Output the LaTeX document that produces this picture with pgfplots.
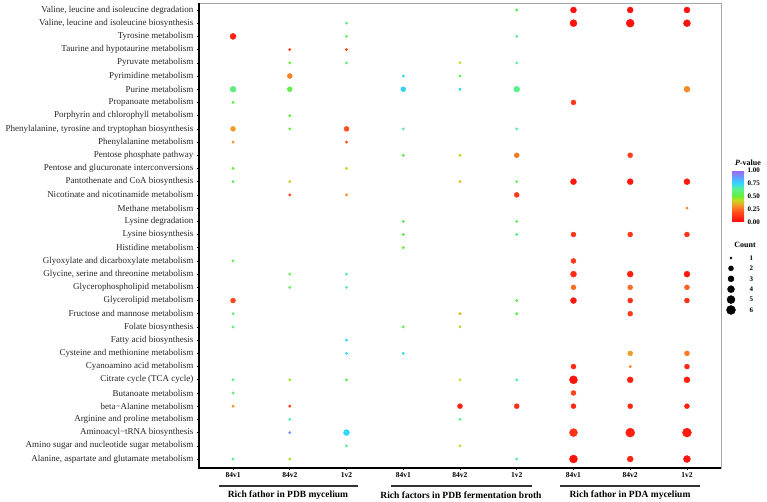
\documentclass[border=0pt]{standalone}
\usepackage{pgfplots}
\pgfplotsset{compat=1.18}
\usepackage{fontspec}
\setmainfont{Liberation Serif}
\begin{document}
\begin{tikzpicture}
\begin{axis}[
  name=main,
  scale only axis, width=522pt, height=465pt,
  xmin=-0.6, xmax=8.6, ymin=0.47, ymax=35.68, y dir=reverse,
  clip=false,
  axis line style={draw=gray!70, line width=0.8pt},
  tick align=outside, major tick length=2pt,
  xtick pos=bottom, ytick pos=left,
  tick style={black, line width=0.6pt},
  xtick={0,...,8},
  xticklabels={84v1,84v2,1v2,84v1,84v2,1v2,84v1,84v2,1v2},
  xticklabel style={font=\bfseries\fontsize{7.5}{8}\selectfont, yshift=1pt},
  ytick={1,...,35},
  yticklabels={
    {Valine, leucine and isoleucine degradation},
    {Valine, leucine and isoleucine biosynthesis},
    {Tyrosine metabolism},
    {Taurine and hypotaurine metabolism},
    {Pyruvate metabolism},
    {Pyrimidine metabolism},
    {Purine metabolism},
    {Propanoate metabolism},
    {Porphyrin and chlorophyll metabolism},
    {Phenylalanine, tyrosine and tryptophan biosynthesis},
    {Phenylalanine metabolism},
    {Pentose phosphate pathway},
    {Pentose and glucuronate interconversions},
    {Pantothenate and CoA biosynthesis},
    {Nicotinate and nicotinamide metabolism},
    {Methane metabolism},
    {Lysine degradation},
    {Lysine biosynthesis},
    {Histidine metabolism},
    {Glyoxylate and dicarboxylate metabolism},
    {Glycine, serine and threonine metabolism},
    {Glycerophospholipid metabolism},
    {Glycerolipid metabolism},
    {Fructose and mannose metabolism},
    {Folate biosynthesis},
    {Fatty acid biosynthesis},
    {Cysteine and methionine metabolism},
    {Cyanoamino acid metabolism},
    {Citrate cycle (TCA cycle)},
    {Butanoate metabolism},
    {beta−Alanine metabolism},
    {Arginine and proline metabolism},
    {Aminoacyl−tRNA biosynthesis},
    {Amino sugar and nucleotide sugar metabolism},
    {Alanine, aspartate and glutamate metabolism}},
  yticklabel style={font=\fontsize{9}{10}\selectfont, color=black!85},
  colormap={pv}{rgb255(0cm)=(255,10,10); rgb255(2cm)=(255,80,30); rgb255(3.2cm)=(245,150,40); rgb255(4.3cm)=(190,225,30); rgb255(5cm)=(100,238,60); rgb255(6.4cm)=(90,240,150); rgb255(7.5cm)=(50,215,255); rgb255(8.8cm)=(110,150,255); rgb255(10cm)=(165,95,245)},
  point meta min=0, point meta max=1,
  colorbar,
  colorbar style={
    scale only axis,
    at={(parent axis.north east)}, anchor=north west,
    xshift=2.5pt, yshift=-167pt,
    width=12pt, height=52pt,
    ytick={0,0.25,0.5,0.75,1},
    major tick length=0pt,
    axis line style={draw=none},
    yticklabel style={font=\bfseries\fontsize{7}{8}\selectfont,
      /pgf/number format/.cd, fixed, fixed zerofill, precision=2, assume math mode=true},
  },
]
\addplot[scatter, only marks, mark=*,
  scatter/use mapped color={draw=mapped color, fill=mapped color},
  point meta=\thisrow{p},
  visualization depends on={(\thisrow{c}==1)*1.25+(\thisrow{c}>1)*(1.5+0.5*\thisrow{c}) \as \rad},
  scatter/@pre marker code/.append style={/tikz/mark size=\rad},
] table {
x y c p
5 1 1 0.55
6 1 3 0.02
7 1 3 0.02
8 1 3 0.02
2 2 1 0.62
6 2 4 0.02
7 2 5 0.02
8 2 4 0.02
0 3 3 0.06
2 3 1 0.55
5 3 1 0.62
1 4 1 0.15
2 4 1 0.15
1 5 1 0.50
2 5 1 0.60
4 5 1 0.42
5 5 1 0.65
1 6 2 0.28
3 6 1 0.75
4 6 1 0.55
0 7 3 0.60
1 7 2 0.52
3 7 2 0.77
4 7 1 0.75
5 7 3 0.63
8 7 3 0.30
0 8 1 0.52
6 8 2 0.12
1 9 1 0.50
0 10 2 0.33
1 10 1 0.50
2 10 2 0.20
3 10 1 0.65
5 10 1 0.65
0 11 1 0.30
2 11 1 0.20
3 12 1 0.52
4 12 1 0.42
5 12 2 0.27
7 12 2 0.15
0 13 1 0.52
2 13 1 0.42
0 14 1 0.55
1 14 1 0.40
4 14 1 0.38
5 14 1 0.55
6 14 3 0.04
7 14 3 0.04
8 14 3 0.04
1 15 1 0.18
2 15 1 0.30
5 15 2 0.13
8 16 1 0.30
3 17 1 0.52
5 17 1 0.55
3 18 1 0.53
5 18 1 0.62
6 18 2 0.13
7 18 2 0.13
8 18 2 0.13
3 19 1 0.52
0 20 1 0.52
6 20 2 0.13
1 21 1 0.55
2 21 1 0.65
6 21 3 0.10
7 21 3 0.06
8 21 3 0.04
1 22 1 0.55
2 22 1 0.65
6 22 2 0.25
7 22 2 0.25
8 22 2 0.23
0 23 2 0.17
5 23 1 0.53
6 23 3 0.04
7 23 2 0.10
8 23 2 0.10
0 24 1 0.58
4 24 1 0.38
5 24 1 0.55
7 24 2 0.15
0 25 1 0.60
3 25 1 0.53
4 25 1 0.40
2 26 1 0.75
2 27 1 0.75
3 27 1 0.75
7 27 2 0.33
8 27 2 0.27
6 28 2 0.08
7 28 1 0.28
8 28 2 0.08
0 29 1 0.63
1 29 1 0.45
2 29 1 0.55
4 29 1 0.43
5 29 1 0.65
6 29 5 0.03
7 29 3 0.06
8 29 3 0.06
0 30 1 0.55
6 30 2 0.17
0 31 1 0.30
1 31 1 0.15
4 31 2 0.06
5 31 2 0.10
6 31 2 0.08
7 31 2 0.08
8 31 2 0.06
1 32 1 0.65
4 32 1 0.63
1 33 1 0.90
2 33 3 0.75
6 33 5 0.12
7 33 6 0.06
8 33 6 0.05
2 34 1 0.63
4 34 1 0.42
0 35 1 0.63
1 35 1 0.45
5 35 1 0.65
6 35 5 0.03
7 35 3 0.08
8 35 4 0.03
};
\draw[black, line width=1.2pt] (rel axis cs:0,1) -- (rel axis cs:0,0) -- (rel axis cs:1,0);
\end{axis}
% Count legend
\begin{axis}[
  at={(main.north east)}, anchor=north west, yshift=-249.8pt,
  scale only axis, width=25pt, height=62.4pt,
  xmin=0, xmax=2.5, ymin=0.5, ymax=6.5, y dir=reverse,
  clip=false, axis line style={draw=none},
  xtick=\empty, ytick={1,...,6}, major tick length=0pt,
  ytick pos=right, yticklabel pos=right,
  yticklabel style={font=\bfseries\fontsize{7}{8}\selectfont, /pgf/number format/assume math mode=true},
]
\addplot[scatter, only marks, mark=*,
  scatter/use mapped color={draw=black, fill=black},
  point meta=y,
  visualization depends on={(\thisrow{c}==1)*1.1+(\thisrow{c}>1)*(1.5+0.5*\thisrow{c}) \as \rad},
  scatter/@pre marker code/.append style={/tikz/mark size=\rad},
] table {
x c
1 1
1 2
1 3
1 4
1 5
1 6
};
\node[font=\bfseries\fontsize{8}{9}\selectfont] at (axis cs:2.4,-0.25) {Count};
\end{axis}
\node[font=\bfseries\fontsize{8}{9}\selectfont] at ([shift={(27pt,-160pt)}]main.north east) {\textit{P}-value};
% group lines and labels
\draw[black!80, line width=1.1pt] ([shift={(20pt,-18pt)}]main.south west) -- ++(139pt,0);
\draw[black!80, line width=1.1pt] ([shift={(192pt,-18pt)}]main.south west) -- ++(141pt,0);
\draw[black!80, line width=1.1pt] ([shift={(361pt,-18pt)}]main.south west) -- ++(140pt,0);
\node[font=\bfseries\fontsize{9.5}{10}\selectfont] at ([shift={(89pt,-27pt)}]main.south west) {Rich fathor in PDB mycelium};
\node[font=\bfseries\fontsize{9.5}{10}\selectfont] at ([shift={(262pt,-27pt)}]main.south west) {Rich factors in PDB fermentation broth};
\node[font=\bfseries\fontsize{9.5}{10}\selectfont] at ([shift={(431pt,-27pt)}]main.south west) {Rich fathor in PDA mycelium};
\pgfresetboundingbox
\path[use as bounding box] ([shift={(-199pt,-34pt)}]main.south west) rectangle ([shift={(46pt,3pt)}]main.north east);
\end{tikzpicture}
\end{document}
